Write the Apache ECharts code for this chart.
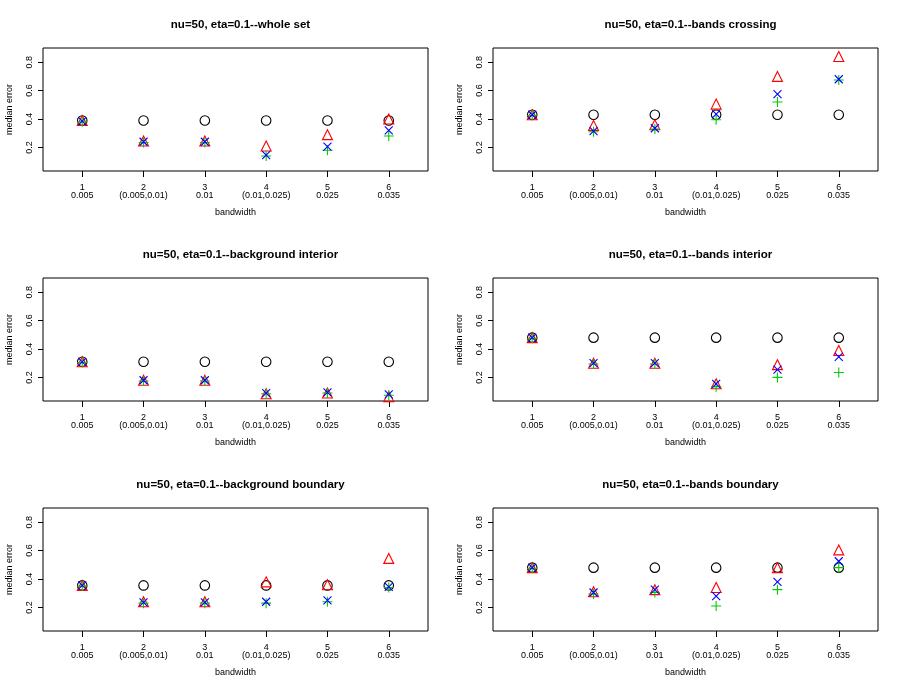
<!DOCTYPE html>
<html>
<head>
<meta charset="utf-8">
<script src="https://cdn.jsdelivr.net/npm/echarts@6/dist/echarts.min.js"></script>
<style>
  html, body { margin: 0; padding: 0; background: #fff; }
  #chart { width: 900px; height: 692px; }
</style>
</head>
<body>
<div id="chart"></div>
<script>
// x categories (index line + bandwidth line)
const bandIdx = ["1", "2", "3", "4", "5", "6"];
const bandVal = ["0.005", "(0.005,0.01)", "0.01", "(0.01,0.025)", "0.025", "0.035"];
const xTicks = [1, 2, 3, 4, 5, 6];
const yTicks = [0.2, 0.4, 0.6, 0.8];

const panelTitles = [
  "nu=50, eta=0.1--whole set",
  "nu=50, eta=0.1--bands crossing",
  "nu=50, eta=0.1--background interior",
  "nu=50, eta=0.1--bands interior",
  "nu=50, eta=0.1--background boundary",
  "nu=50, eta=0.1--bands boundary"
];

// each panel: [circle, triangle, plus, cross]
const wholeSet = [
  [0.39, 0.39, 0.39, 0.39, 0.39, 0.39],
  [0.39, 0.245, 0.245, 0.21, 0.29, 0.40],
  [0.38, 0.235, 0.235, 0.14, 0.18, 0.28],
  [0.385, 0.24, 0.24, 0.145, 0.205, 0.32]
];
const bandsCrossing = [
  [0.43, 0.43, 0.43, 0.43, 0.43, 0.43],
  [0.43, 0.355, 0.36, 0.505, 0.70, 0.84],
  [0.425, 0.31, 0.33, 0.395, 0.52, 0.675],
  [0.43, 0.315, 0.335, 0.435, 0.575, 0.68]
];
const backgroundInterior = [
  [0.31, 0.31, 0.31, 0.31, 0.31, 0.31],
  [0.31, 0.18, 0.18, 0.085, 0.09, 0.065],
  [0.305, 0.175, 0.175, 0.085, 0.09, 0.075],
  [0.31, 0.18, 0.18, 0.09, 0.095, 0.08]
];
const bandsInterior = [
  [0.48, 0.48, 0.48, 0.48, 0.48, 0.48],
  [0.48, 0.30, 0.30, 0.155, 0.29, 0.39],
  [0.475, 0.295, 0.295, 0.135, 0.20, 0.235],
  [0.48, 0.30, 0.30, 0.155, 0.255, 0.345]
];
const backgroundBoundary = [
  [0.355, 0.355, 0.355, 0.355, 0.355, 0.355],
  [0.355, 0.24, 0.24, 0.38, 0.36, 0.545],
  [0.35, 0.23, 0.23, 0.23, 0.24, 0.34],
  [0.355, 0.235, 0.235, 0.24, 0.25, 0.345]
];
const bandsBoundary = [
  [0.48, 0.48, 0.48, 0.48, 0.48, 0.48],
  [0.48, 0.31, 0.325, 0.34, 0.48, 0.605],
  [0.475, 0.295, 0.305, 0.21, 0.325, 0.48],
  [0.48, 0.305, 0.325, 0.28, 0.38, 0.525]
];

const panels = [wholeSet, bandsCrossing, backgroundInterior, bandsInterior, backgroundBoundary, bandsBoundary];

const font = "'Liberation Sans', Arial, sans-serif";
const colLeft = [43, 493];
const rowTop = [48, 278, 508];
const boxW = 385, boxH = 123;

const markers = [
  { symbol: "circle", color: "#000000", size: 9.5 },
  { symbol: "triangle", color: "#ff0000", size: 10 },
  { symbol: "path://M0,5L10,5M5,0L5,10", color: "#00cd00", size: 10 },
  { symbol: "path://M0,0L10,10M0,10L10,0", color: "#0000ff", size: 8 }
];

const grid = [], xAxis = [], yAxis = [], series = [], title = [];

panels.forEach(function (p, i) {
  const left = colLeft[i % 2];
  const top = rowTop[Math.floor(i / 2)];
  grid.push({
    left: left, top: top, width: boxW, height: boxH,
    show: true, borderColor: "#000", borderWidth: 1, backgroundColor: "transparent"
  });
  title.push({
    text: panelTitles[i],
    left: left + boxW / 2, top: top - 34, textAlign: "center",
    textStyle: { fontFamily: font, fontSize: 11.5, fontWeight: "bold", color: "#000" }
  });
  xAxis.push({
    gridIndex: i, type: "value", min: 0.36, max: 6.64,
    name: "bandwidth", nameLocation: "middle", nameGap: 37,
    nameTextStyle: { fontFamily: font, fontSize: 9, color: "#000" },
    axisLine: { show: false },
    splitLine: { show: false },
    axisTick: { show: true, customValues: xTicks, length: 6, lineStyle: { color: "#000" } },
    axisLabel: {
      customValues: xTicks, margin: 12, lineHeight: 8.5,
      fontFamily: font, fontSize: 9, color: "#000",
      formatter: function (v) {
        const k = Math.round(v) - 1;
        return bandIdx[k] + "\n" + bandVal[k];
      }
    }
  });
  yAxis.push({
    gridIndex: i, type: "value", min: 0.034, max: 0.9,
    name: "median error", nameLocation: "middle", nameGap: 29, nameRotate: 90,
    nameTextStyle: { fontFamily: font, fontSize: 9, color: "#000" },
    axisLine: { show: false },
    splitLine: { show: false },
    axisTick: { show: true, customValues: yTicks, length: 5, lineStyle: { color: "#000" } },
    axisLabel: {
      customValues: yTicks, rotate: 90, margin: 9,
      fontFamily: font, fontSize: 9, color: "#000",
      formatter: function (v) { return v.toFixed(1); }
    }
  });
  p.forEach(function (vals, s) {
    const m = markers[s];
    series.push({
      type: "scatter", xAxisIndex: i, yAxisIndex: i,
      symbol: m.symbol, symbolSize: m.size,
      itemStyle: { color: "transparent", borderColor: m.color, borderWidth: 1.1, opacity: 1 },
      data: vals.map(function (v, k) { return [xTicks[k], v]; }),
      silent: true
    });
  });
});

const chart = echarts.init(document.getElementById("chart"), null, { renderer: "canvas" });
chart.setOption({
  animation: false,
  backgroundColor: "#fff",
  title: title,
  grid: grid,
  xAxis: xAxis,
  yAxis: yAxis,
  series: series
});
</script>
</body>
</html>
